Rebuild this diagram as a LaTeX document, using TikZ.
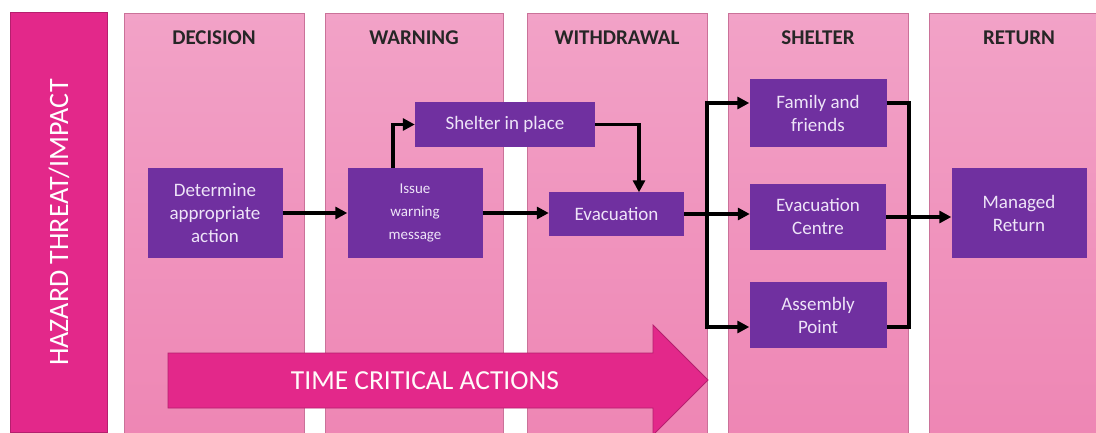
\documentclass[tikz,border=0pt]{standalone}
\usepackage{fontspec}
\setmainfont{Carlito}
\usetikzlibrary{arrows.meta,positioning,calc}
\definecolor{colpink}{HTML}{F2A2C7}
\definecolor{colpinkdark}{HTML}{EE86B4}
\definecolor{hotpink}{HTML}{E3288A}
\definecolor{hotpinkedge}{HTML}{B51F6E}
\definecolor{boxpurple}{HTML}{7030A0}
\definecolor{boxtext}{HTML}{EEE4F8}

\begin{document}
\begin{tikzpicture}[
    x=1pt, y=-1pt,
    every node/.style={font=\fontsize{19}{23}\selectfont, align=center, inner sep=0pt},
    phase/.style={top color=colpink, bottom color=colpinkdark, draw=colpinkdark!85!black, line width=0.4pt, minimum width=180pt, minimum height=424pt, anchor=north},
    heading/.style={font=\fontsize{21}{25}\selectfont\bfseries, text=black!85},
    action/.style={fill=boxpurple, text=boxtext, minimum width=135pt},
    flow/.style={-{Triangle[length=12pt,width=12pt]}, line width=3.4pt},
    link/.style={line width=3.4pt}
  ]
  \useasboundingbox (0,0) rectangle (1096,433);
  \clip (0,0) rectangle (1096,433);

  % side bar
  \node[draw=hotpinkedge, fill=hotpink, line width=1pt, minimum width=97pt, minimum height=420pt, anchor=north west] (hazard) at (10,12) {};
  \node[rotate=90, text=white, font=\fontsize{28}{32}\selectfont] (hazardtxt) at (hazard.center) {HAZARD THREAT/IMPACT};

  % phase columns
  \node[phase] (decision) at (214,13) {};
  \node[phase, minimum width=178pt] (warning) at (414,13) {};
  \node[phase] (withdrawal) at (617,13) {};
  \node[phase] (shelter) at (818,13) {};
  \node[phase] (return) at (1019,13) {};

  \node[heading] (hdecision) at (214,38) {DECISION};
  \node[heading] (hwarning) at (414,38) {WARNING};
  \node[heading] (hwithdrawal) at (617,38) {WITHDRAWAL};
  \node[heading] (hshelter) at (818,38) {SHELTER};
  \node[heading] (hreturn) at (1019,38) {RETURN};

  % time arrow
  \draw[fill=hotpink, draw=hotpinkedge, line width=0.8pt] (168,353) -- (653,353) -- (653,325) -- (708,380) -- (653,435) -- (653,408) -- (168,408) -- cycle;
  \node[text=white!92!pink, font=\fontsize{27.5}{30}\selectfont] (timecrit) at (425,381) {TIME CRITICAL ACTIONS};

  % actions
  \node[action, minimum height=90pt] (determine) at (215,213) {Determine\\appropriate\\action};
  \node[action, minimum height=90pt, font=\fontsize{15}{23}\selectfont] (issue) at (415,213) {Issue\\warning\\message};
  \node[action, minimum width=180pt, minimum height=45pt] (inplace) at (505,124.5) {Shelter in place};
  \node[action, minimum height=43pt] (evacuation) at (616.5,214) {Evacuation};
  \node[action, minimum width=137pt, minimum height=68pt] (family) at (818,113) {Family and\\friends};
  \node[action, minimum width=136pt, minimum height=66pt] (centre) at (818,217) {Evacuation\\Centre};
  \node[action, minimum width=137pt, minimum height=66pt] (assembly) at (818,315) {Assembly\\Point};
  \node[action, minimum height=90pt] (managed) at (1019,213) {Managed\\Return};

  \coordinate (fork) at (707,0);
  \coordinate (merge) at (909,0);
  \coordinate (famout) at ([yshift=10pt]family.east);
  \coordinate (asmout) at ([yshift=-12pt]assembly.east);

  % connectors
  \draw[flow] (determine.east) -- (issue.west);
  \draw[flow] ([xshift=-22pt]issue.north) |- (inplace.west);
  \draw[flow] (inplace.east) -| ([xshift=22.5pt]evacuation.north);
  \draw[flow] (issue.east) -- (evacuation.west |- issue.east);
  \draw[flow] (evacuation.east) -- (evacuation.east -| centre.west);
  \draw[flow] (evacuation.east -| fork) |- ([yshift=10pt]family.west);
  \draw[flow] (evacuation.east -| fork) |- ([yshift=-12pt]assembly.west);
  \draw[link] (famout) -| (merge |- asmout) -- (asmout);
  \draw[flow] (centre.east) -- (centre.east -| managed.west);
\end{tikzpicture}
\end{document}
